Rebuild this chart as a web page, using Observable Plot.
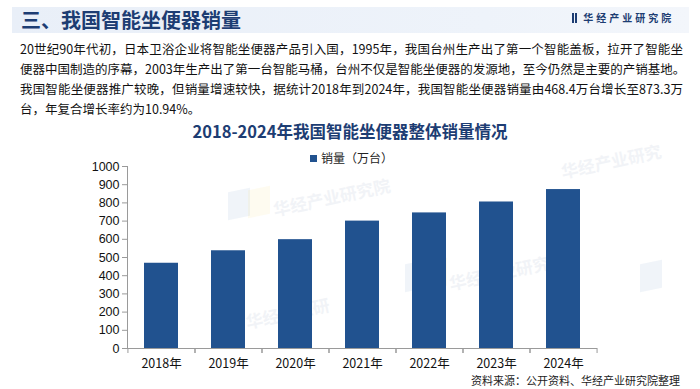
<!DOCTYPE html>
<html>
<head>
<meta charset="utf-8">
<script src="https://cdn.jsdelivr.net/npm/d3@7"></script>
<script src="https://cdn.jsdelivr.net/npm/@observablehq/plot@0.6"></script>
<style>
  html, body { margin: 0; padding: 0; background: #fff; }
  #page { position: relative; width: 700px; height: 389px; overflow: hidden; background: #fff;
          font-family: "Noto Sans CJK SC", "Noto Sans", sans-serif; }
  .abs { position: absolute; }
  #band { left: 12px; top: 7px; width: 677px; height: 26px;
          background: linear-gradient(90deg, #e9eff8 0%, #eef3fa 70%, #f3f6fb 100%); }
  #title { left: 21px; top: 7px; height: 26px; line-height: 26px; font-size: 20px; font-weight: 700; color: #1d3d73; }
  #logo { left: 572px; top: 9px; height: 18px; line-height: 18px; font-size: 10px; font-weight: 700; color: #1d3d73; letter-spacing: 3px; }
  #logo i { display: inline-block; width: 2px; height: 10px; background: #1d3d73; margin-right: 1px; vertical-align: -1px; }
  #para { left: 20px; top: 39px; width: 663px; font-size: 12.5px; line-height: 20px; color: #111; }
  #para div.j { text-align: justify; text-align-last: justify; white-space: nowrap; }
  #ctitle { left: 0; width: 700px; top: 119px; text-align: center; font-size: 16.5px; font-weight: 700; color: #1d3d73; line-height: 24px; }
  #legend { left: 310px; top: 150px; font-size: 12px; color: #222; line-height: 16px; }
  #legend span.sw { display: inline-block; width: 7px; height: 7px; background: #21528f; margin-right: 4px; vertical-align: 1px; }
  #chart { left: 0; top: 150px; }
  #source { right: 20px; top: 373px; font-size: 11px; color: #222; line-height: 14px; }
  .wm { position: absolute; font-size: 17px; font-weight: 700; color: #d3dae5; opacity: 0.3; transform: rotate(-12deg); white-space: nowrap; }
  .wmb { position: absolute; width: 22px; height: 28px; opacity: 0.1; transform: skewY(-12deg); }
</style>
</head>
<body>
<div id="page">
  <div class="abs" id="band"></div>
  <div class="abs" id="title">三、我国智能坐便器销量</div>
  <div class="abs" id="logo"><i></i><i></i> 华经产业研究院</div>

  <div class="wmb" style="left:228px;top:190px;background:#6f8fc9"></div>
  <div class="wmb" style="left:248px;top:188px;background:#f3d46a"></div>
  <div class="wm" style="left:272px;top:184px">华经产业研究院</div>
  <div class="wmb" style="left:405px;top:262px;background:#6f8fc9"></div>
  <div class="wmb" style="left:425px;top:260px;background:#f3d46a"></div>
  <div class="wm" style="left:448px;top:258px">华经产业研究院</div>
  <div class="wmb" style="left:640px;top:262px;background:#6f8fc9"></div>
  <div class="wm" style="left:245px;top:300px">华经产业研</div>
  <div class="wm" style="left:560px;top:148px">华经产业研究</div>

  <div class="abs" id="para">
    <div class="j">20世纪90年代初，日本卫浴企业将智能坐便器产品引入国，1995年，我国台州生产出了第一个智能盖板，拉开了智能坐</div>
    <div class="j">便器中国制造的序幕，2003年生产出了第一台智能马桶，台州不仅是智能坐便器的发源地，至今仍然是主要的产销基地。</div>
    <div class="j">我国智能坐便器推广较晚，但销量增速较快，据统计2018年到2024年，我国智能坐便器销量由468.4万台增长至873.3万</div>
    <div>台，年复合增长率约为10.94%。</div>
  </div>

  <div class="abs" id="ctitle">2018-2024年我国智能坐便器整体销量情况</div>
  <div class="abs" id="legend"><span class="sw"></span>销量（万台）</div>
  <div class="abs" id="chart"></div>
  <div class="abs" id="source">资料来源：公开资料、华经产业研究院整理</div>
</div>
<script>
const years = ["2018年", "2019年", "2020年", "2021年", "2022年", "2023年", "2024年"];
const sales = [468.4, 537, 598, 700, 745, 805, 873.3];
const yTicks = [0, 100, 200, 300, 400, 500, 600, 700, 800, 900, 1000];
const seriesName = "销量（万台）";

const data = years.map((y, i) => ({year: y, value: sales[i]}));

const W = 700, mL = 127, mR = 103;
const half = (W - mL - mR) / years.length / 2;
const axisColor = "#9a9a9a";

const chart = Plot.plot({
  width: W,
  height: 230,
  marginLeft: mL,
  marginRight: mR,
  marginTop: 16,
  marginBottom: 32,
  style: {fontFamily: "'Liberation Sans', Arial, sans-serif", fontSize: "12.5px", color: "#111", background: "transparent", overflow: "visible"},
  x: {domain: years, paddingInner: 0.49, paddingOuter: 0.245, axis: null},
  y: {domain: [0, 1000], axis: null},
  marks: [
    Plot.barY(data, {x: "year", y: "value", fill: "#21528f", title: d => `${seriesName} ${d.value}`}),
    Plot.frame({anchor: "left", stroke: axisColor}),
    Plot.ruleY([0], {stroke: axisColor}),
    Plot.axisY({ticks: yTicks, tickSize: 5, tickPadding: 3, stroke: axisColor, fill: "#111", fontSize: 12.5, label: null, tickFormat: d => String(d)}),
    Plot.axisX({tickSize: 5, dx: -half, stroke: axisColor, label: null, tickFormat: () => ""}),
    Plot.axisX({tickSize: 5, dx: half, stroke: axisColor, label: null, tickFormat: () => ""}),
    Plot.axisX({tickSize: 0, tickPadding: 11, fill: "#111", fontSize: 12.5, label: null, fontFamily: "'Noto Sans CJK SC', sans-serif"})
  ]
});
document.getElementById("chart").appendChild(chart);
</script>
</body>
</html>
